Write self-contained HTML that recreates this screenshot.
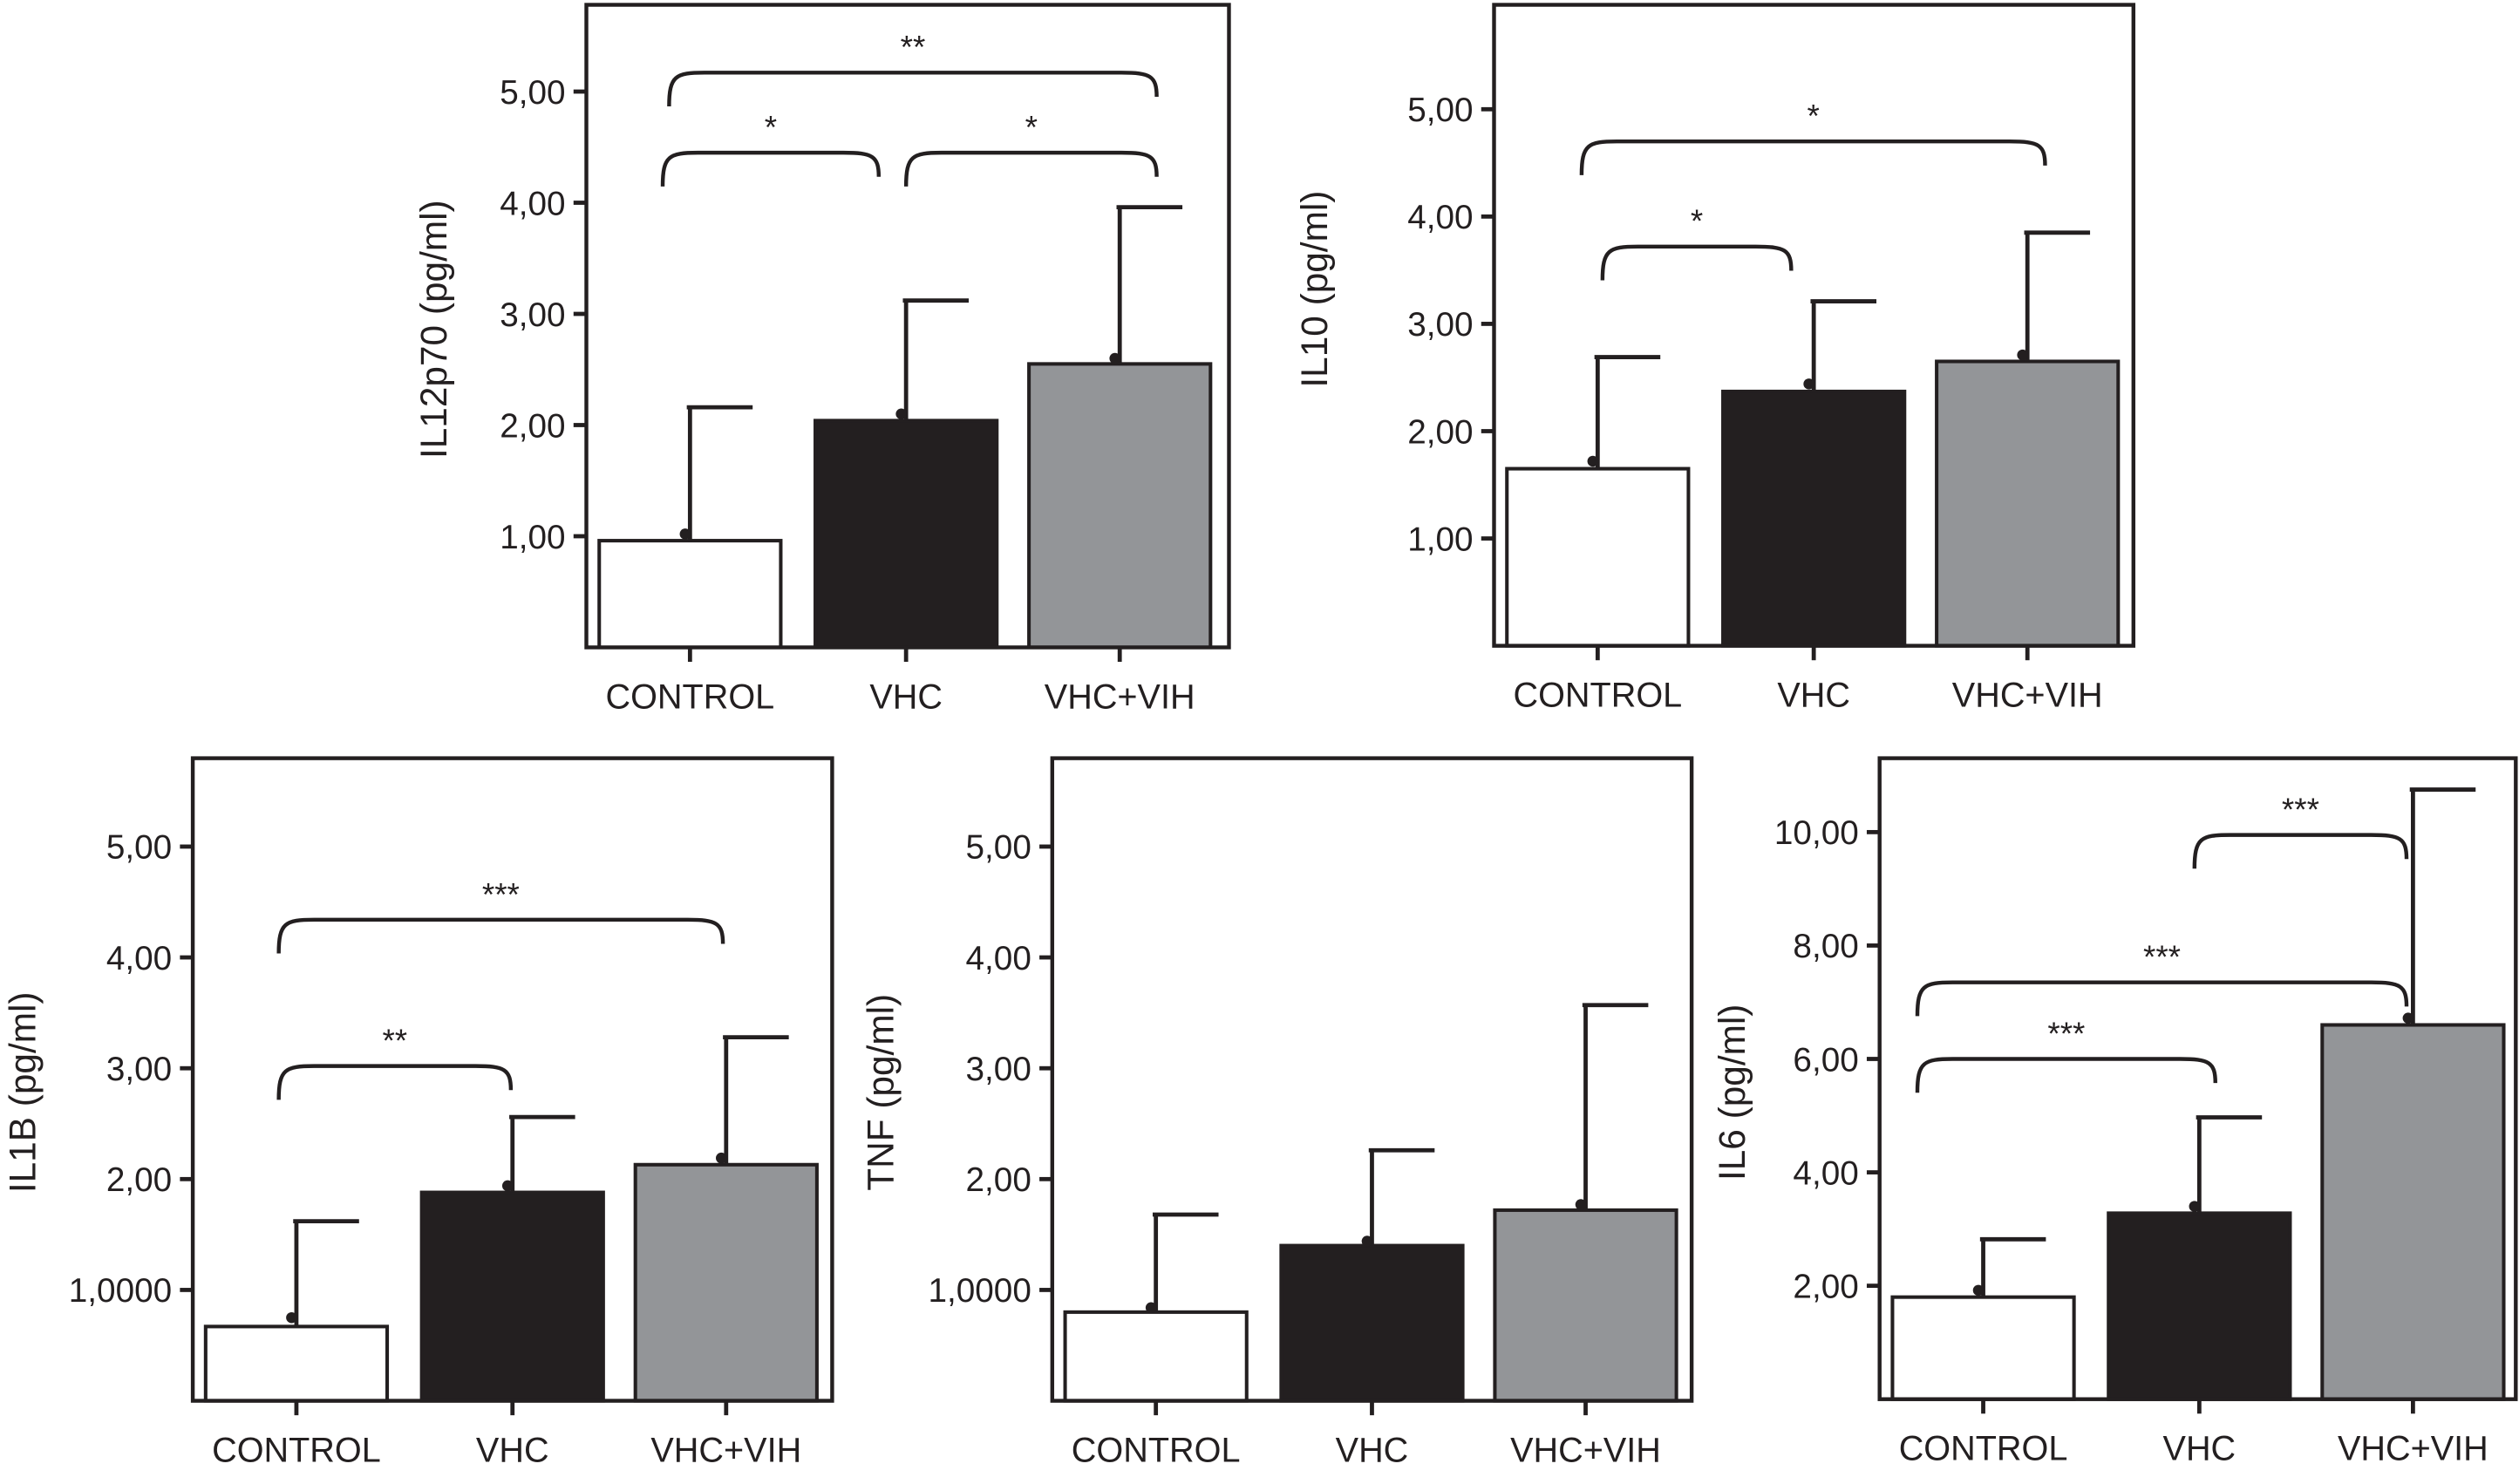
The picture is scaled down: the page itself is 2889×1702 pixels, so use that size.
<!DOCTYPE html>
<html><head><meta charset="utf-8"><style>
html,body{margin:0;padding:0;background:#fff;}
svg{display:block;}
text{font-family:"Liberation Sans",Arial,sans-serif;fill:#231f20;}
</style></head><body>
<svg id="fig" width="2889" height="1702" viewBox="0 0 1568 923.8" preserveAspectRatio="none" xmlns="http://www.w3.org/2000/svg"></svg>
<script>
const categories = ["CONTROL","VHC","VHC+VIH"];
const il12Means = [0.96, 2.04, 2.55];
const il12Err = [2.16, 3.12, 3.96];
const il12Dots = [1.02, 2.10, 2.60];
const il10Means = [1.65, 2.37, 2.65];
const il10Err = [2.69, 3.21, 3.85];
const il10Dots = [1.72, 2.44, 2.71];
const il1bMeans = [0.67, 1.88, 2.13];
const il1bErr = [1.62, 2.56, 3.28];
const il1bDots = [0.75, 1.94, 2.19];
const tnfMeans = [0.80, 1.40, 1.72];
const tnfErr = [1.68, 2.26, 3.57];
const tnfDots = [0.84, 1.44, 1.77];
const il6Means = [1.80, 3.28, 6.60];
const il6Err = [2.82, 4.97, 10.75];
const il6Dots = [1.92, 3.40, 6.72];
const ticks5 = [1,2,3,4,5];
const tickLabels5 = ["1,00","2,00","3,00","4,00","5,00"];
const tickLabels5b = ["1,0000","2,00","3,00","4,00","5,00"];
const ticks10 = [2,4,6,8,10];
const tickLabels10 = ["2,00","4,00","6,00","8,00","10,00"];
// brackets: [fromCat, toCat, value(level), label]
const il12Brackets = [[0,2,5.17,"**"],[0,1,4.45,"*"],[1,2,4.45,"*"]];
const il10Brackets = [[0,2,4.7,"*"],[0,1,3.72,"*"]];
const il1bBrackets = [[0,2,4.34,"***"],[0,1,3.02,"**"]];
const tnfBrackets = [];
const il6Brackets = [[1,2,9.95,"***"],[0,2,7.35,"***"],[0,1,6.0,"***"]];
// layout offsets for bracket ends (pixels from category centre), not data
const il12BrOff = [[-13,23],[-17,-17],[0,23]];
const il10BrOff = [[-10,11],[3,-14]];
const il1bBrOff = [[-11,-2],[-11,-1]];
const tnfBrOff = [];
const il6BrOff = [[-3,-4],[-41,-4],[-41,10]];

const NS="http://www.w3.org/2000/svg";
const svg=document.getElementById('fig');
function mk(tag,attrs,parent){const e=document.createElementNS(NS,tag);for(const k in attrs)e.setAttribute(k,attrs[k]);(parent||svg).appendChild(e);return e;}
const fills=["#ffffff","#231f20","#939598"];
const barLeft=[8,142.5,275.5];

function panel(p){
  const g=mk('g',{});
  
  
  const x0=p.x0,x1=p.x1,y0=p.y0,y1=p.y1;
  const ys=v=>y1-v*(y1-p.yRefPix)/p.yRefVal;
  const bw=113;
  const xc=i=>x0+barLeft[i]+bw/2;
  categories.forEach((c,i)=>{
    const cx=xc(i);
    const b=mk('rect',{x:cx-bw/2,y:ys(p.means[i]),width:bw,height:y1-ys(p.means[i]),fill:fills[i],stroke:"#231f20","stroke-width":2.2},g);
    
    
    const e=mk('path',{d:`M${cx},${ys(p.means[i])} V${ys(p.err[i])} M${cx-2},${ys(p.err[i])} H${cx+39}`,stroke:"#231f20","stroke-width":2.6,fill:"none"},g);
    
    
    const d=mk('circle',{cx:cx-3,cy:ys(p.dots[i]),r:3.4,fill:"#231f20"},g);
    
    
    mk('line',{x1:cx,x2:cx,y1:y1,y2:y1+9,stroke:"#231f20","stroke-width":2.6},g);
    const t=mk('text',{x:cx,y:y1+38,"text-anchor":"middle","font-size":21.5},g);
    t.textContent=c;
    
    
  });
  const f=mk('rect',{x:x0,y:y0,width:x1-x0,height:y1-y0,fill:"none",stroke:"#231f20","stroke-width":2.4},g);
  
  
  p.ticks.forEach((v,i)=>{
    const y=ys(v);
    mk('line',{x1:x0-8,x2:x0,y1:y,y2:y,stroke:"#231f20","stroke-width":2.6},g);
    const t=mk('text',{x:x0-13,y:y+7.5,"text-anchor":"end","font-size":21},g);
    t.textContent=p.tickLabels[i];
    
    
  });
  const tt=mk('text',{transform:`translate(${p.titleX},${p.titleY}) rotate(-90)`,"text-anchor":"middle","font-size":23},g);
  tt.textContent=p.title;
  
  
  p.brackets.forEach((b,k)=>{
    const xa=xc(b[0])+p.brOff[k][0], xb=xc(b[1])+p.brOff[k][1];
    const y=ys(b[2]), drop=21;
    const br=mk('path',{d:`M${xa},${y+drop} C${xa},${y+2} ${xa+4},${y} ${xa+22},${y} H${xb-22} C${xb-4},${y} ${xb},${y+2} ${xb},${y+drop-6}`,fill:"none",stroke:"#231f20","stroke-width":2.4},g);
    
    
    const s=mk('text',{x:(xa+xb)/2,y:y-9,"text-anchor":"middle","font-size":20},g);
    s.textContent=b[3];
    
    
  });
}
panel({name:"il12p70",x0:365,x1:765,y0:3,y1:403,yRefVal:5,yRefPix:57,means:il12Means,err:il12Err,dots:il12Dots,ticks:ticks5,tickLabels:tickLabels5,title:"IL12p70 (pg/ml)",titleX:278,titleY:205,brackets:il12Brackets,brOff:il12BrOff});
panel({name:"il10",x0:930,x1:1328,y0:3,y1:402,yRefVal:5,yRefPix:68,means:il10Means,err:il10Err,dots:il10Dots,ticks:ticks5,tickLabels:tickLabels5,title:"IL10 (pg/ml)",titleX:826,titleY:180,brackets:il10Brackets,brOff:il10BrOff});
panel({name:"il1b",x0:120,x1:518,y0:472,y1:872,yRefVal:5,yRefPix:527,means:il1bMeans,err:il1bErr,dots:il1bDots,ticks:ticks5,tickLabels:tickLabels5b,title:"IL1B (pg/ml)",titleX:22,titleY:680,brackets:il1bBrackets,brOff:il1bBrOff});
panel({name:"tnf",x0:655,x1:1053,y0:472,y1:872,yRefVal:5,yRefPix:527,means:tnfMeans,err:tnfErr,dots:tnfDots,ticks:ticks5,tickLabels:tickLabels5b,title:"TNF (pg/ml)",titleX:556,titleY:680,brackets:tnfBrackets,brOff:tnfBrOff});
panel({name:"il6",x0:1170,x1:1566,y0:472,y1:871,yRefVal:10,yRefPix:518,means:il6Means,err:il6Err,dots:il6Dots,ticks:ticks10,tickLabels:tickLabels10,title:"IL6 (pg/ml)",titleX:1086,titleY:680,brackets:il6Brackets,brOff:il6BrOff});
</script>
</body></html>
